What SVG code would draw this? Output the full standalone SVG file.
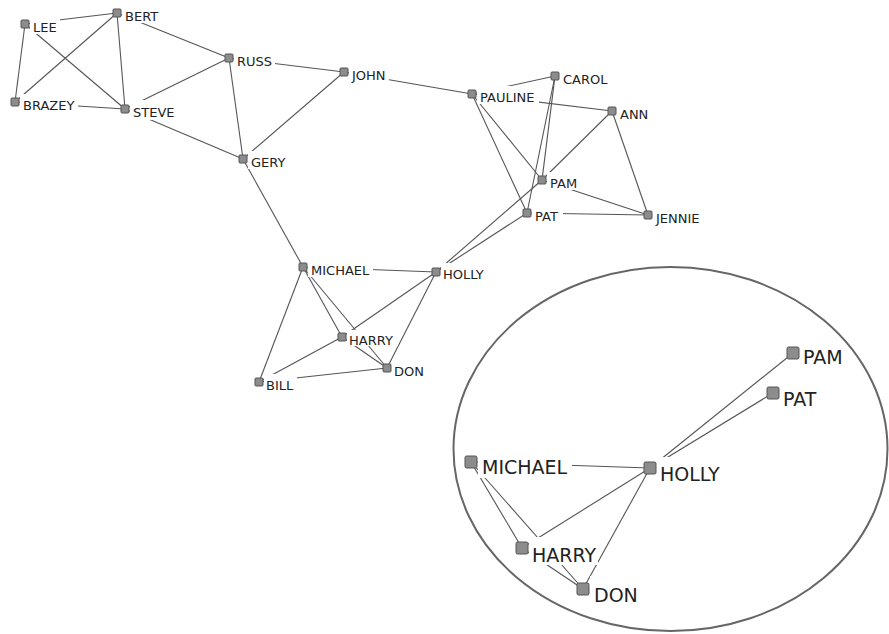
<svg xmlns="http://www.w3.org/2000/svg" width="889" height="634" viewBox="0 0 889 634">
<style>
.e{stroke:#555;stroke-width:1.1;fill:none}
.bg{fill:#fff}
.sq{fill:#8c8c8c;stroke:#555;stroke-width:1}
.t{font-family:"DejaVu Sans",Verdana,sans-serif;font-size:13px;fill:#222}
.T{font-family:"DejaVu Sans",Verdana,sans-serif;font-size:19px;fill:#222}
</style>
<g id="edges">
<line class="e" x1="25" y1="24" x2="117" y2="13"/>
<line class="e" x1="25" y1="24" x2="15" y2="102"/>
<line class="e" x1="25" y1="24" x2="125" y2="109"/>
<line class="e" x1="117" y1="13" x2="15" y2="102"/>
<line class="e" x1="117" y1="13" x2="125" y2="109"/>
<line class="e" x1="117" y1="13" x2="229" y2="58"/>
<line class="e" x1="15" y1="102" x2="125" y2="109"/>
<line class="e" x1="125" y1="109" x2="229" y2="58"/>
<line class="e" x1="125" y1="109" x2="243" y2="159"/>
<line class="e" x1="229" y1="58" x2="243" y2="159"/>
<line class="e" x1="229" y1="58" x2="344" y2="72"/>
<line class="e" x1="344" y1="72" x2="243" y2="159"/>
<line class="e" x1="344" y1="72" x2="472" y2="94"/>
<line class="e" x1="243" y1="159" x2="303" y2="267"/>
<line class="e" x1="472" y1="94" x2="555" y2="76"/>
<line class="e" x1="472" y1="94" x2="612" y2="111"/>
<line class="e" x1="472" y1="94" x2="542" y2="180"/>
<line class="e" x1="472" y1="94" x2="527" y2="213"/>
<line class="e" x1="555" y1="76" x2="542" y2="180"/>
<line class="e" x1="555" y1="76" x2="527" y2="213"/>
<line class="e" x1="612" y1="111" x2="542" y2="180"/>
<line class="e" x1="612" y1="111" x2="648" y2="215"/>
<line class="e" x1="542" y1="180" x2="648" y2="215"/>
<line class="e" x1="527" y1="213" x2="648" y2="215"/>
<line class="e" x1="542" y1="180" x2="436" y2="272"/>
<line class="e" x1="527" y1="213" x2="436" y2="272"/>
<line class="e" x1="303" y1="267" x2="436" y2="272"/>
<line class="e" x1="303" y1="267" x2="342" y2="337"/>
<line class="e" x1="303" y1="267" x2="387" y2="368"/>
<line class="e" x1="303" y1="267" x2="259" y2="382"/>
<line class="e" x1="342" y1="337" x2="436" y2="272"/>
<line class="e" x1="342" y1="337" x2="387" y2="368"/>
<line class="e" x1="342" y1="337" x2="259" y2="382"/>
<line class="e" x1="436" y1="272" x2="387" y2="368"/>
<line class="e" x1="259" y1="382" x2="387" y2="368"/>
<line class="e" x1="793" y1="353" x2="650" y2="468"/>
<line class="e" x1="773" y1="393" x2="650" y2="468"/>
<line class="e" x1="471" y1="462" x2="650" y2="468"/>
<line class="e" x1="471" y1="462" x2="522" y2="548"/>
<line class="e" x1="471" y1="462" x2="583" y2="589"/>
<line class="e" x1="522" y1="548" x2="650" y2="468"/>
<line class="e" x1="522" y1="548" x2="583" y2="589"/>
<line class="e" x1="650" y1="468" x2="583" y2="589"/>
</g>
<g id="LEE"><rect class="bg" x="30" y="16" width="30" height="18"/><text class="t" x="33" y="32">LEE</text><rect class="sq" x="21" y="20" width="8" height="8" rx="1"/></g>
<g id="BERT"><rect class="bg" x="122" y="5" width="40" height="18"/><text class="t" x="125" y="21">BERT</text><rect class="sq" x="113" y="9" width="8" height="8" rx="1"/></g>
<g id="BRAZEY"><rect class="bg" x="20" y="94" width="58" height="18"/><text class="t" x="23" y="110">BRAZEY</text><rect class="sq" x="11" y="98" width="8" height="8" rx="1"/></g>
<g id="STEVE"><rect class="bg" x="130" y="100" width="48" height="20"/><text class="t" x="133" y="117">STEVE</text><rect class="sq" x="121" y="105" width="8" height="8" rx="1"/></g>
<g id="RUSS"><rect class="bg" x="234" y="50" width="41" height="18"/><text class="t" x="237" y="66">RUSS</text><rect class="sq" x="225" y="54" width="8" height="8" rx="1"/></g>
<g id="GERY"><rect class="bg" x="248" y="151" width="41" height="18"/><text class="t" x="251" y="167">GERY</text><rect class="sq" x="239" y="155" width="8" height="8" rx="1"/></g>
<g id="JOHN"><rect class="bg" x="349" y="64" width="40" height="18"/><text class="t" x="352" y="80">JOHN</text><rect class="sq" x="340" y="68" width="8" height="8" rx="1"/></g>
<g id="PAULINE"><rect class="bg" x="477" y="86" width="62" height="18"/><text class="t" x="480" y="102">PAULINE</text><rect class="sq" x="468" y="90" width="8" height="8" rx="1"/></g>
<g id="CAROL"><rect class="bg" x="560" y="68" width="51" height="18"/><text class="t" x="563" y="84">CAROL</text><rect class="sq" x="551" y="72" width="8" height="8" rx="1"/></g>
<g id="ANN"><rect class="bg" x="617" y="103" width="35" height="18"/><text class="t" x="620" y="119">ANN</text><rect class="sq" x="608" y="107" width="8" height="8" rx="1"/></g>
<g id="PAM"><rect class="bg" x="547" y="172" width="34" height="18"/><text class="t" x="550" y="188">PAM</text><rect class="sq" x="538" y="176" width="8" height="8" rx="1"/></g>
<g id="PAT"><rect class="bg" x="532" y="205" width="31" height="18"/><text class="t" x="535" y="221">PAT</text><rect class="sq" x="523" y="209" width="8" height="8" rx="1"/></g>
<g id="JENNIE"><rect class="bg" x="653" y="207" width="50" height="18"/><text class="t" x="656" y="223">JENNIE</text><rect class="sq" x="644" y="211" width="8" height="8" rx="1"/></g>
<g id="MICHAEL"><rect class="bg" x="308" y="259" width="65" height="18"/><text class="t" x="311" y="275">MICHAEL</text><rect class="sq" x="299" y="263" width="8" height="8" rx="1"/></g>
<g id="HOLLY"><rect class="bg" x="441" y="263" width="48" height="19"/><text class="t" x="443" y="279">HOLLY</text><rect class="sq" x="432" y="268" width="8" height="8" rx="1"/></g>
<g id="HARRY"><rect class="bg" x="347" y="330" width="51" height="16"/><text class="t" x="349" y="345">HARRY</text><rect class="sq" x="338" y="333" width="8" height="8" rx="1"/></g>
<g id="DON"><rect class="bg" x="392" y="360" width="36" height="18"/><text class="t" x="394" y="376">DON</text><rect class="sq" x="383" y="364" width="8" height="8" rx="1"/></g>
<g id="BILL"><rect class="bg" x="264" y="374" width="33" height="18"/><text class="t" x="266" y="390">BILL</text><rect class="sq" x="255" y="378" width="8" height="8" rx="1"/></g>
<g id="PAM2"><rect class="bg" x="800" y="342" width="47" height="27"/><text class="T" x="803" y="364">PAM</text><rect class="sq" x="787" y="347" width="12" height="12" rx="1.5"/></g>
<g id="PAT2"><rect class="bg" x="780" y="382" width="44" height="27"/><text class="T" x="783" y="406">PAT</text><rect class="sq" x="767" y="387" width="12" height="12" rx="1.5"/></g>
<g id="MICHAEL2"><rect class="bg" x="478" y="451" width="94" height="27"/><text class="T" x="482" y="474">MICHAEL</text><rect class="sq" x="465" y="456" width="12" height="12" rx="1.5"/></g>
<g id="HOLLY2"><rect class="bg" x="656" y="457" width="71" height="28"/><text class="T" x="660" y="481">HOLLY</text><rect class="sq" x="644" y="462" width="12" height="12" rx="1.5"/></g>
<g id="HARRY2"><rect class="bg" x="529" y="537" width="69" height="28"/><text class="T" x="532" y="562">HARRY</text><rect class="sq" x="516" y="542" width="12" height="12" rx="1.5"/></g>
<g id="DON2"><rect class="bg" x="590" y="576" width="52" height="29"/><text class="T" x="594" y="602">DON</text><rect class="sq" x="577" y="583" width="12" height="12" rx="1.5"/></g>
<ellipse cx="670.5" cy="449" rx="217" ry="182" fill="none" stroke="#666" stroke-width="2"/>
</svg>
